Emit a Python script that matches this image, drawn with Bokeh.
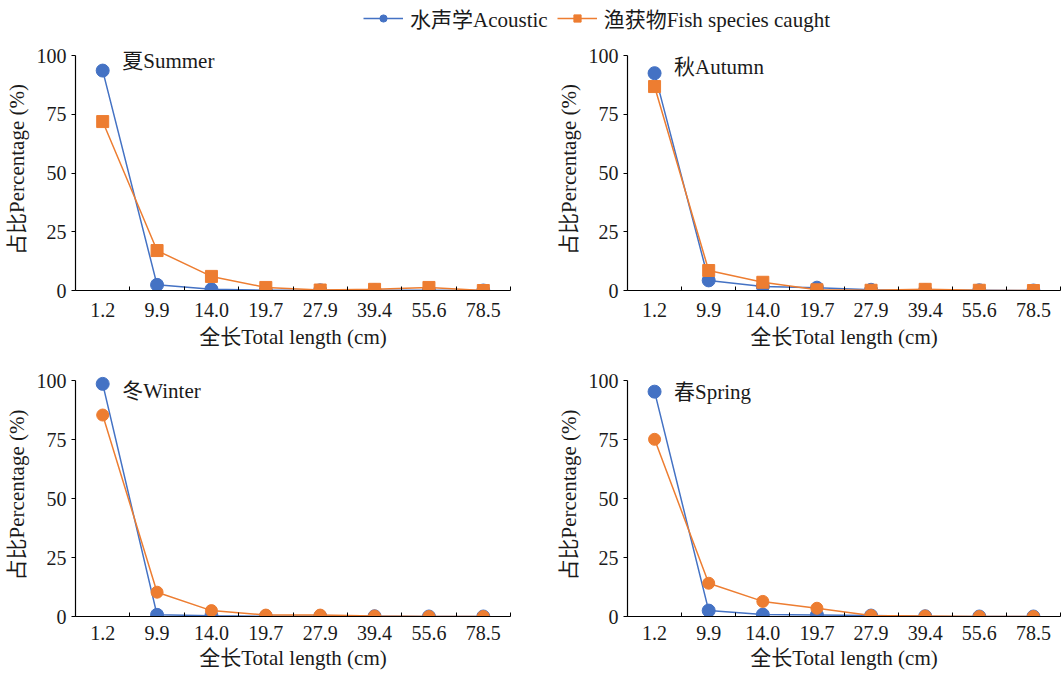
from bokeh.plotting import figure
from bokeh.layouts import column, row
from bokeh.models import Range1d, FixedTicker, Legend, LegendItem, Label
from bokeh.embed import file_html
from bokeh.resources import INLINE

categories = ["1.2", "9.9", "14.0", "19.7", "27.9", "39.4", "55.6", "78.5"]

summer_acoustic = [93.6, 2.4, 0.5, 0.1, 0.1, 0.1, 0.1, 0.0]
summer_catch = [71.9, 17.0, 6.0, 1.3, 0.2, 0.5, 1.3, 0.0]
autumn_acoustic = [92.5, 4.3, 1.7, 1.2, 0.3, 0.1, 0.1, 0.0]
autumn_catch = [86.8, 8.5, 3.5, 0.3, 0.1, 0.5, 0.1, 0.0]
winter_acoustic = [98.6, 0.7, 0.3, 0.1, 0.1, 0.1, 0.0, 0.0]
winter_catch = [85.4, 10.3, 2.5, 0.6, 0.6, 0.2, 0.0, 0.0]
spring_acoustic = [95.3, 2.5, 0.8, 0.6, 0.4, 0.1, 0.0, 0.0]
spring_catch = [75.1, 14.1, 6.4, 3.5, 0.4, 0.2, 0.0, 0.0]

y_ticks = [0, 25, 50, 75, 100]

BLUE = "#4472C4"
ORANGE = "#ED7D31"
TEXT = "#1a1a1a"
FONT = "Liberation Serif, Noto Sans CJK SC"

xs = list(range(1, len(categories) + 1))
bounds = [i + 0.5 for i in range(0, len(categories) + 1)]


def make_panel(acoustic, catch, title, catch_marker, width, height,
               bl, br, bt, bb, tick_standoff, label_standoff):
    p = figure(width=width, height=height, output_backend="svg",
               toolbar_location=None,
               x_range=Range1d(0.5, len(categories) + 0.5),
               y_range=Range1d(0, 103),
               min_border_left=bl, min_border_right=br,
               min_border_top=bt, min_border_bottom=bb)
    p.outline_line_color = None
    p.xgrid.visible = False
    p.ygrid.visible = False
    p.background_fill_color = "white"
    p.border_fill_color = "white"

    p.line(xs, acoustic, line_color=BLUE, line_width=1.5)
    p.scatter(xs, acoustic, marker="circle", size=13, fill_color=BLUE,
              line_color=BLUE)
    p.line(xs, catch, line_color=ORANGE, line_width=1.5)
    p.scatter(xs, catch, marker=catch_marker, size=12, fill_color=ORANGE,
              line_color=ORANGE)

    xa = p.xaxis[0]
    xa.ticker = FixedTicker(ticks=xs, minor_ticks=bounds)
    xa.major_label_overrides = {x: c for x, c in zip(xs, categories)}
    xa.major_tick_in = 0
    xa.major_tick_out = 0
    xa.minor_tick_in = 4
    xa.minor_tick_out = 0
    xa.minor_tick_line_color = "black"
    xa.axis_line_color = "black"
    xa.axis_line_width = 1.2
    xa.major_label_text_font = FONT
    xa.major_label_text_font_size = "20px"
    xa.major_label_text_color = TEXT
    xa.major_label_standoff = tick_standoff
    xa.axis_label = "全长Total length (cm)"
    xa.axis_label_text_font = FONT
    xa.axis_label_text_font_size = "21px"
    xa.axis_label_text_font_style = "normal"
    xa.axis_label_text_color = TEXT
    xa.axis_label_standoff = label_standoff

    ya = p.yaxis[0]
    ya.ticker = FixedTicker(ticks=y_ticks)
    ya.bounds = (0, 100)
    ya.major_tick_in = 0
    ya.major_tick_out = 4
    ya.minor_tick_line_color = None
    ya.axis_line_color = "black"
    ya.axis_line_width = 1.2
    ya.major_tick_line_color = "black"
    ya.major_label_text_font = FONT
    ya.major_label_text_font_size = "20px"
    ya.major_label_text_color = TEXT
    ya.major_label_standoff = 5
    ya.axis_label = "占比Percentage (%)"
    ya.axis_label_text_font = FONT
    ya.axis_label_text_font_size = "21px"
    ya.axis_label_text_font_style = "normal"
    ya.axis_label_text_color = TEXT
    ya.axis_label_standoff = 5

    p.add_layout(Label(x=1.36, y=title[1], text=title[0],
                       text_font=FONT, text_font_size="21px",
                       text_color=TEXT, text_baseline="middle",
                       text_align="left"))
    return p


p1 = make_panel(summer_acoustic, summer_catch, ("夏Summer", 97.8), "square",
                520, 325, 75, 10, 8, 75, 12, 5)
p2 = make_panel(autumn_acoustic, autumn_catch, ("秋Autumn", 95.0), "square",
                542, 325, 107, 2, 8, 75, 12, 5)
p3 = make_panel(winter_acoustic, winter_catch, ("冬Winter", 95.5), "circle",
                520, 308, 75, 10, 8, 57, 9, 3)
p4 = make_panel(spring_acoustic, spring_catch, ("春Spring", 95.3), "circle",
                542, 308, 107, 2, 8, 57, 9, 3)

# Legend strip (legend-only renderers, placed outside the visible range)
lg = figure(width=1062, height=40, output_backend="svg", toolbar_location=None,
            x_range=Range1d(0, 1), y_range=Range1d(0, 1),
            min_border=0)
lg.axis.visible = False
lg.grid.visible = False
lg.outline_line_color = None
l1 = lg.line([5, 6], [5, 6], line_color=BLUE, line_width=1.5)
s1 = lg.scatter([5], [5], marker="circle", fill_color=BLUE, line_color=BLUE)
l2 = lg.line([5, 6], [5, 6], line_color=ORANGE, line_width=1.5)
s2 = lg.scatter([5], [5], marker="square", fill_color=ORANGE, line_color=ORANGE)
legend = Legend(items=[LegendItem(label="水声学Acoustic", renderers=[l1, s1]),
                       LegendItem(label="渔获物Fish species caught", renderers=[l2, s2])],
                orientation="horizontal", location=(363, 7),
                label_text_font=FONT, label_text_font_size="21px",
                label_text_color=TEXT, glyph_width=40, glyph_height=18,
                label_standoff=7, spacing=9, padding=4, margin=0,
                border_line_color=None, background_fill_alpha=0)
lg.add_layout(legend)

layout = column(lg, row(p1, p2), row(p3, p4))

open("out.html", "w").write(file_html(layout, INLINE))
